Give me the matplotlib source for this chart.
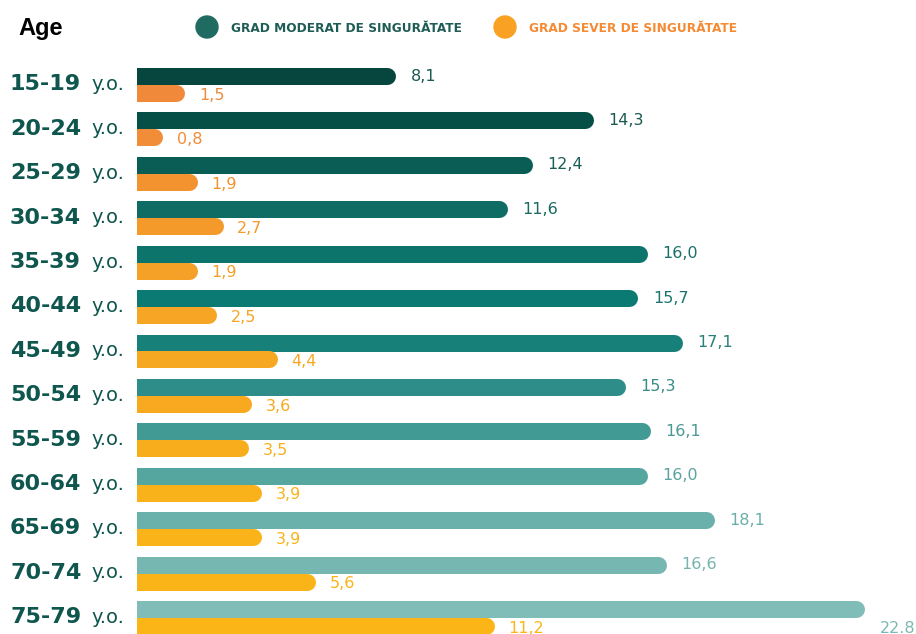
import matplotlib.pyplot as plt
from matplotlib.patches import Circle

ages = ['15-19', '20-24', '25-29', '30-34', '35-39', '40-44', '45-49',
        '50-54', '55-59', '60-64', '65-69', '70-74', '75-79']
moderat = [8.1, 14.3, 12.4, 11.6, 16.0, 15.7, 17.1, 15.3, 16.1, 16.0, 18.1, 16.6, 22.8]
sever = [1.5, 0.8, 1.9, 2.7, 1.9, 2.5, 4.4, 3.6, 3.5, 3.9, 3.9, 5.6, 11.2]
moderat_labels = ['8,1', '14,3', '12,4', '11,6', '16,0', '15,7', '17,1',
                  '15,3', '16,1', '16,0', '18,1', '16,6', '22.8']
sever_labels = ['1,5', '0,8', '1,9', '2,7', '1,9', '2,5', '4,4',
                '3,6', '3,5', '3,9', '3,9', '5,6', '11,2']

green_cols = ['#07463e', '#064f47', '#0a5d55', '#0e6c64', '#0c746b', '#0b7a72',
              '#168079', '#2e8d88', '#419a94', '#56a6a0', '#6ab1ab', '#76b7b2', '#80bdb9']
orange_cols = ['#f08a3a', '#f18c38', '#f29330', '#f49a2a', '#f5a027', '#f6a524',
               '#f7a822', '#f8a91f', '#f8ae1c', '#f9b21a', '#fab319', '#fab418', '#fbb517']
green_txt = ['#1a5a52', '#1a5a52', '#1a5e56', '#1a6a62', '#1a716a', '#1a756e',
             '#2a7f79', '#3a8c87', '#4a9993', '#5aa39e', '#6aaea9', '#76b4af', '#7cb9b4']

W, H = 916, 634
fig = plt.figure(figsize=(W / 100, H / 100), dpi=100)
px = 31.9  # pixels per unit
x0 = 137
ax = fig.add_axes([x0 / W, 0, 1 - x0 / W, (H - 55) / H])
ax.set_xlim(0, (W - x0) / px)
ax.set_ylim(12 + (H - 617.5) / 44.4, -(84.5 - 55) / 44.4)
ax.axis('off')

lw = 17 * 72 / 100
r = 8.5 / px
for i in range(len(ages)):
    ax.plot([-1, moderat[i] - r], [i - 0.19, i - 0.19], color=green_cols[i],
            lw=lw, solid_capstyle='round')
    ax.plot([-1, sever[i] - r], [i + 0.19, i + 0.19], color=orange_cols[i],
            lw=lw, solid_capstyle='round')
    if i == len(ages) - 1:
        ax.text((880 - x0) / px, i + 0.24, moderat_labels[i], color=green_txt[i],
                fontsize=11.5, va='center', ha='left', clip_on=False)
    else:
        ax.text(moderat[i] + 15 / px, i - 0.19, moderat_labels[i], color=green_txt[i],
                fontsize=11.5, va='center', ha='left')
    ax.text(sever[i] + 14 / px, i + 0.24, sever_labels[i], color=orange_cols[i],
            fontsize=11.5, va='center', ha='left')

    yfig = 1 - (84.5 + 44.4 * i) / H
    fig.text(10 / W, yfig, ages[i], fontsize=16, fontweight='bold',
             color='#0f564e', va='center', ha='left')
    fig.text(91 / W, yfig, 'y.o.', fontsize=14, color='#0f564e',
             va='center', ha='left')

fig.text(18 / W, 1 - 28 / H, 'Age', fontsize=17, fontweight='bold',
         color='black', va='center', ha='left', family='Liberation Sans')

for cx, col, txt, tcol in [(207, '#1f6b62', 'GRAD MODERAT DE SINGURĂTATE', '#1f5c55'),
                           (505, '#f9a123', 'GRAD SEVER DE SINGURĂTATE', '#f58a33')]:
    fig.patches.append(Circle((cx, H - 27), 11, transform=None, color=col))
    fig.text((cx + 24) / W, 1 - 28 / H, txt, fontsize=8.7, fontweight='bold',
             color=tcol, va='center', ha='left')

fig.savefig('out.png', dpi=100)
